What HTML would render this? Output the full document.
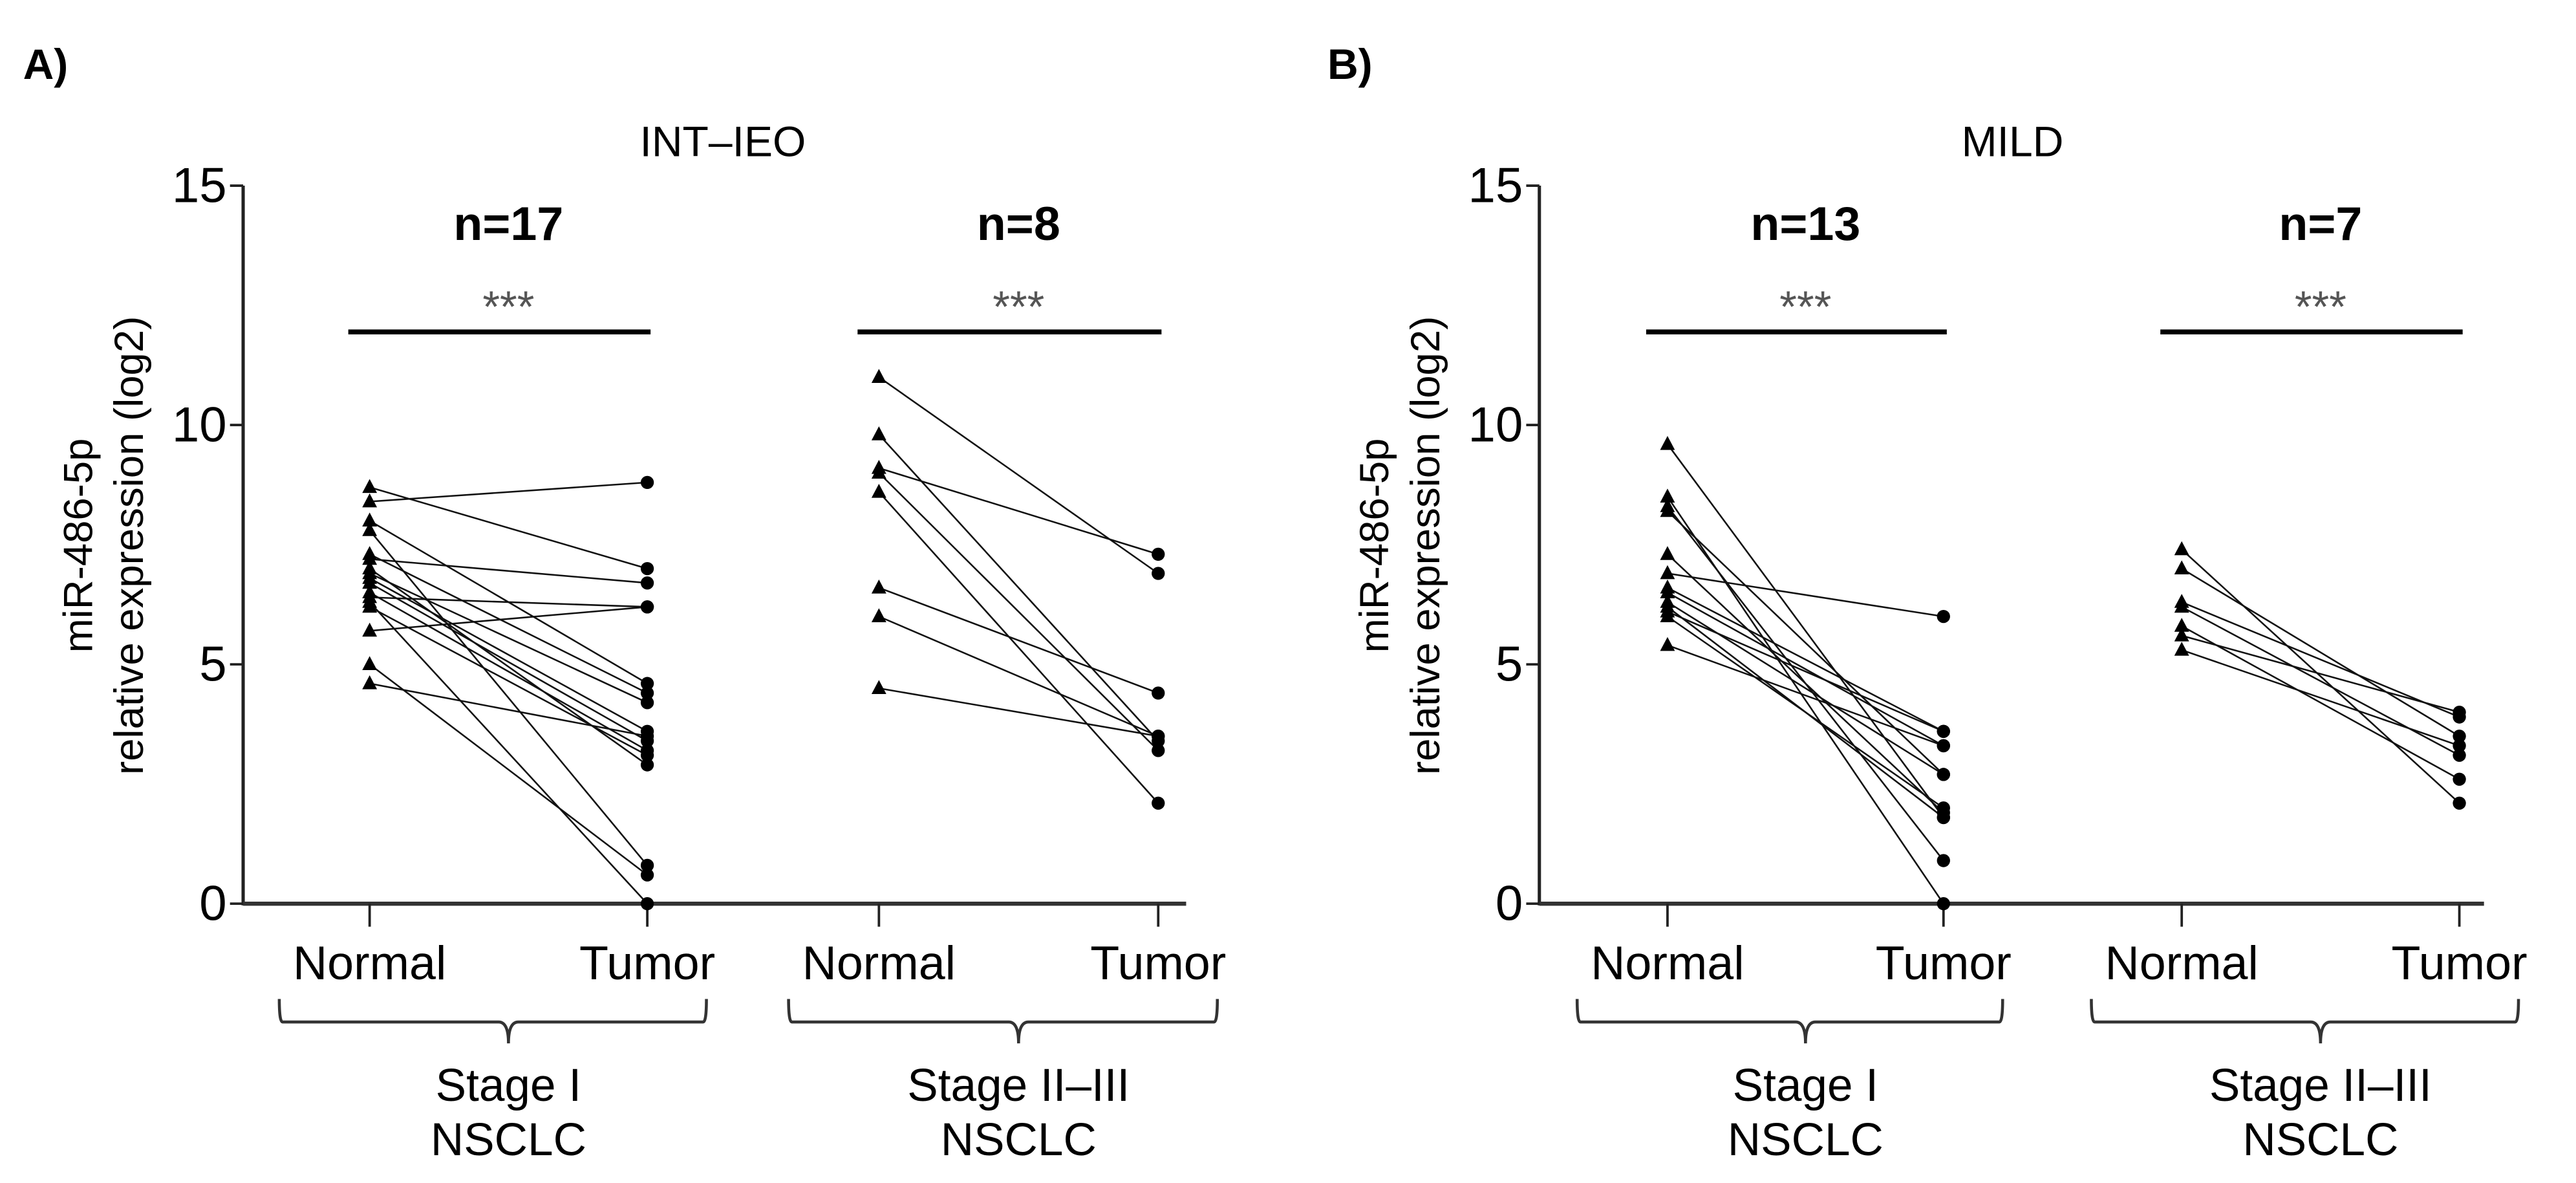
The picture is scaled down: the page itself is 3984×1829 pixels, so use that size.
<!DOCTYPE html>
<html><head><meta charset="utf-8"><style>
html,body{margin:0;padding:0;background:#fff;}
svg{display:block;font-family:"Liberation Sans",Arial,sans-serif;}
</style></head><body>
<svg id="fig" width="3984" height="1829" viewBox="0 0 1568 720" preserveAspectRatio="none" xmlns="http://www.w3.org/2000/svg">
<rect width="1568" height="720" fill="#fff"/>
<g id="root"></g>
</svg>
<script>
// Panel A: INT-IEO
const aStage1Normal = [8.4, 8.7, 7.2, 6.4, 5.7, 4.6, 5.0, 6.3, 8.0, 7.8, 7.3, 6.9, 6.8, 6.7, 6.5, 7.0, 6.2];
const aStage1Tumor  = [8.8, 7.0, 6.7, 6.2, 6.2, 3.5, 0.6, 0.0, 4.6, 0.8, 4.4, 4.2, 3.6, 3.4, 3.2, 2.9, 3.1];
const aStage2Normal = [11.0, 9.8, 9.1, 9.0, 8.6, 6.6, 6.0, 4.5];
const aStage2Tumor  = [6.9, 3.4, 7.3, 3.2, 2.1, 4.4, 3.5, 3.5];
// Panel B: MILD
const bStage1Normal = [9.6, 8.5, 8.3, 8.2, 7.3, 6.9, 6.6, 6.5, 6.3, 6.2, 6.0, 6.1, 5.4];
const bStage1Tumor  = [1.8, 0.0, 0.9, 2.7, 1.9, 6.0, 3.6, 3.3, 2.7, 1.8, 2.0, 3.6, 3.3];
const bStage2Normal = [7.4, 7.0, 6.3, 6.2, 5.8, 5.6, 5.3];
const bStage2Tumor  = [2.1, 3.5, 3.9, 3.1, 2.6, 4.0, 3.3];
const yTicks = [0, 5, 10, 15];
const panelTitles = ["INT\u2013IEO", "MILD"];
const panelLetters = ["A)", "B)"];
const nLabels = [["n=17", "n=8"], ["n=13", "n=7"]];
const catLabels = ["Normal", "Tumor"];
const stageLabels = [["Stage I", "NSCLC"], ["Stage II\u2013III", "NSCLC"]];

const NS = "http://www.w3.org/2000/svg";
const root = document.getElementById("root");
function mk(tag, attrs, parent, text) {
  const e = document.createElementNS(NS, tag);
  for (const k in attrs) e.setAttribute(k, attrs[k]);
  if (text !== undefined) e.textContent = text;
  (parent || root).appendChild(e);
  return e;
}
const y0 = 550, y15 = 113;
function yScale(v) { return y0 - (v / 15) * (y0 - y15); }

const panels = [
  {axX: 148, axEnd: 722, letterX: 14, titleX: 440, xs: [225, 394, 535, 705],
   groups: [[aStage1Normal, aStage1Tumor], [aStage2Normal, aStage2Tumor]]},
  {axX: 937, axEnd: 1512, letterX: 808, titleX: 1225, xs: [1015, 1183, 1328, 1497],
   groups: [[bStage1Normal, bStage1Tumor], [bStage2Normal, bStage2Tumor]]}
];

panels.forEach((p, pi) => {
  const g = mk("g", {});
  
  
  const letter = mk("text", {x: p.letterX, y: 48, "font-size": 26, "font-weight": "bold"}, g, panelLetters[pi]);
  
  
  const title = mk("text", {x: p.titleX, y: 95, "font-size": 26, "text-anchor": "middle"}, g, panelTitles[pi]);
  
  
  const cy = 332;
  const yt1 = mk("text", {x: 0, y: 0, "font-size": 25, "text-anchor": "middle", transform: `translate(${p.axX - 92},${cy}) rotate(-90)`}, g, "miR-486-5p");
  
  
  const yt2 = mk("text", {x: 0, y: 0, "font-size": 25, "text-anchor": "middle", transform: `translate(${p.axX - 61},${cy}) rotate(-90)`}, g, "relative expression (log2)");
  
  
  const ya = mk("line", {x1: p.axX, y1: y15, x2: p.axX, y2: y0 + 1, stroke: "#222", "stroke-width": 2}, g);
  
  
  const xa = mk("line", {x1: p.axX, y1: y0, x2: p.axEnd, y2: y0, stroke: "#333", "stroke-width": 2.5}, g);
  
  
  yTicks.forEach(t => {
    const ty = yScale(t);
    mk("line", {x1: p.axX - 8, y1: ty, x2: p.axX, y2: ty, stroke: "#222", "stroke-width": 1.5}, g);
    const lb = mk("text", {x: p.axX - 10, y: ty + 10, "font-size": 30, "text-anchor": "end"}, g, String(t));
    
    
  });
  p.xs.forEach((x, i) => {
    mk("line", {x1: x, y1: y0, x2: x, y2: y0 + 14, stroke: "#222", "stroke-width": 1.5}, g);
    const cl = mk("text", {x: x, y: 596, "font-size": 29, "text-anchor": "middle"}, g, catLabels[i % 2]);
    
    
  });
  p.groups.forEach((grp, gi) => {
    const xn = p.xs[gi * 2], xt = p.xs[gi * 2 + 1], mid = (xn + xt) / 2;
    const nl = mk("text", {x: mid, y: 146, "font-size": 29, "font-weight": "bold", "text-anchor": "middle"}, g, nLabels[pi][gi]);
    
    
    const st = mk("text", {x: mid, y: 196, "font-size": 27, fill: "#555", "text-anchor": "middle"}, g, "***");
    
    
    const bar = mk("line", {x1: xn - 13, y1: 202, x2: xt + 2, y2: 202, stroke: "#000", "stroke-width": 3}, g);
    
    
    const bl = xn - 55, br = xt + 36;
    const brace = mk("path", {d: `M${bl},608 Q${bl},622 ${bl + 2},622 L${mid - 6},622 Q${mid},622 ${mid},635 Q${mid},622 ${mid + 6},622 L${br - 2},622 Q${br},622 ${br},608`, fill: "none", stroke: "#333", "stroke-width": 1.8}, g);
    
    
    stageLabels[gi].forEach((s, si) => {
      const sl = mk("text", {x: mid, y: 670 + si * 33, "font-size": 28, "text-anchor": "middle"}, g, s);
      
      
    });
    const [nv, tv] = grp;
    nv.forEach((v, k) => {
      const ln = mk("line", {x1: xn, y1: yScale(v), x2: xt, y2: yScale(tv[k]), stroke: "#111", "stroke-width": 1}, g);
      
      
    });
    nv.forEach(v => {
      const y = yScale(v);
      const tri = mk("polygon", {points: `${xn},${y - 5} ${xn - 4.5},${y + 3.5} ${xn + 4.5},${y + 3.5}`, fill: "#000"}, g);
      
      
    });
    tv.forEach(v => {
      const c = mk("circle", {cx: xt, cy: yScale(v), r: 4, fill: "#000"}, g);
      
      
    });
  });
});
</script>
</body></html>
